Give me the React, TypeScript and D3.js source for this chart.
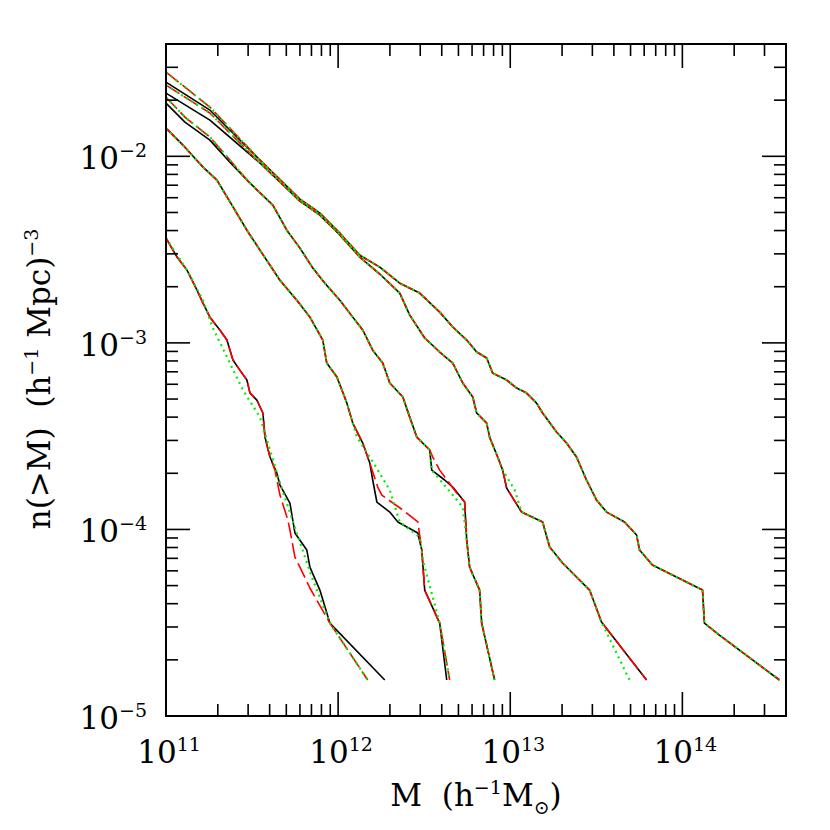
import React from 'react';
import * as d3 from 'd3';

type Pt = [number, number]; // [log10 M (h^-1 Msun), log10 n(>M) (h^-1 Mpc)^-3]

const massDomain: [number, number] = [1e11, 4e14];
const densityDomain: [number, number] = [1e-5, 0.04];
const xTickExponents = [11, 12, 13, 14];
const yTickExponents = [-5, -4, -3, -2];

// Group A (steepest)
const aBlack: Pt[] = [[11.000,-2.438],[11.064,-2.540],[11.122,-2.610],[11.180,-2.717],[11.215,-2.787],[11.255,-2.862],[11.313,-2.931],[11.354,-2.985],[11.389,-3.092],[11.429,-3.146],[11.470,-3.199],[11.488,-3.269],[11.528,-3.307],[11.563,-3.376],[11.575,-3.505],[11.604,-3.612],[11.644,-3.698],[11.662,-3.762],[11.720,-3.859],[11.749,-4.019],[11.818,-4.110],[11.836,-4.202],[11.894,-4.325],[11.952,-4.502],[12.271,-4.807]];
const aRed: Pt[] = [[11.000,-2.438],[11.064,-2.540],[11.122,-2.610],[11.180,-2.717],[11.215,-2.787],[11.255,-2.862],[11.313,-2.931],[11.354,-2.985],[11.389,-3.092],[11.429,-3.146],[11.470,-3.199],[11.488,-3.269],[11.528,-3.307],[11.563,-3.376],[11.575,-3.505],[11.604,-3.612],[11.633,-3.682],[11.662,-3.816],[11.708,-3.950],[11.720,-4.003],[11.749,-4.148],[11.778,-4.202],[11.836,-4.314],[11.952,-4.502],[12.172,-4.807]];
const aGreen: Pt[] = [[11.000,-2.438],[11.122,-2.610],[11.215,-2.771],[11.273,-2.921],[11.371,-3.108],[11.447,-3.253],[11.546,-3.398],[11.604,-3.574],[11.662,-3.751],[11.760,-4.019],[11.847,-4.255],[11.952,-4.502],[12.172,-4.807]];

// Group B
const bBlack: Pt[] = [[11.000,-1.849],[11.110,-1.951],[11.215,-2.058],[11.296,-2.128],[11.383,-2.262],[11.470,-2.396],[11.546,-2.503],[11.662,-2.664],[11.760,-2.771],[11.836,-2.862],[11.911,-2.985],[11.934,-3.108],[11.993,-3.183],[12.051,-3.323],[12.085,-3.430],[12.143,-3.537],[12.184,-3.644],[12.201,-3.735],[12.225,-3.853],[12.300,-3.907],[12.347,-3.960],[12.463,-4.019],[12.486,-4.110],[12.503,-4.325],[12.590,-4.502],[12.631,-4.807]];
const bRed: Pt[] = [[11.000,-1.849],[11.110,-1.951],[11.215,-2.058],[11.296,-2.128],[11.383,-2.262],[11.470,-2.396],[11.546,-2.503],[11.662,-2.664],[11.760,-2.771],[11.836,-2.862],[11.911,-2.985],[11.934,-3.108],[11.993,-3.183],[12.051,-3.323],[12.085,-3.430],[12.143,-3.537],[12.184,-3.644],[12.230,-3.773],[12.254,-3.816],[12.376,-3.896],[12.463,-3.960],[12.486,-4.110],[12.503,-4.325],[12.590,-4.502],[12.648,-4.807]];
const bGreen: Pt[] = [[11.000,-1.849],[11.110,-1.951],[11.215,-2.058],[11.296,-2.128],[11.383,-2.262],[11.470,-2.396],[11.546,-2.503],[11.662,-2.664],[11.760,-2.771],[11.836,-2.862],[11.911,-2.985],[11.934,-3.108],[11.993,-3.183],[12.051,-3.323],[12.085,-3.430],[12.109,-3.505],[12.213,-3.655],[12.300,-3.789],[12.358,-3.960],[12.474,-4.041],[12.492,-4.164],[12.590,-4.502],[12.648,-4.807]];

// Group C
const cBlack: Pt[] = [[11.000,-1.715],[11.110,-1.817],[11.255,-1.913],[11.371,-2.031],[11.488,-2.144],[11.621,-2.262],[11.702,-2.396],[11.778,-2.492],[11.853,-2.599],[11.923,-2.680],[12.010,-2.771],[12.085,-2.862],[12.143,-2.931],[12.201,-3.039],[12.259,-3.108],[12.300,-3.215],[12.376,-3.290],[12.416,-3.398],[12.457,-3.505],[12.532,-3.574],[12.544,-3.682],[12.619,-3.735],[12.666,-3.773],[12.735,-3.853],[12.747,-4.057],[12.764,-4.202],[12.822,-4.325],[12.834,-4.502],[12.909,-4.807]];
const cRed: Pt[] = [[11.000,-1.683],[11.110,-1.790],[11.255,-1.897],[11.371,-2.020],[11.488,-2.144],[11.621,-2.262],[11.702,-2.396],[11.778,-2.492],[11.853,-2.599],[11.923,-2.680],[12.010,-2.771],[12.085,-2.862],[12.143,-2.931],[12.201,-3.039],[12.259,-3.108],[12.300,-3.215],[12.376,-3.290],[12.416,-3.398],[12.457,-3.505],[12.532,-3.574],[12.550,-3.612],[12.590,-3.682],[12.689,-3.805],[12.735,-3.853],[12.747,-4.057],[12.764,-4.202],[12.822,-4.325],[12.834,-4.502],[12.909,-4.807]];
const cGreen: Pt[] = [[11.000,-1.683],[11.110,-1.790],[11.255,-1.897],[11.371,-2.020],[11.488,-2.144],[11.621,-2.262],[11.702,-2.396],[11.778,-2.492],[11.853,-2.599],[11.923,-2.680],[12.010,-2.771],[12.085,-2.862],[12.143,-2.931],[12.201,-3.039],[12.259,-3.108],[12.300,-3.215],[12.376,-3.290],[12.416,-3.398],[12.457,-3.505],[12.532,-3.574],[12.544,-3.682],[12.724,-3.880],[12.747,-4.057],[12.764,-4.202],[12.822,-4.325],[12.834,-4.502],[12.909,-4.807]];

// Group D
const dBlack: Pt[] = [[11.000,-1.661],[11.255,-1.806],[11.546,-2.036],[11.778,-2.240],[11.894,-2.315],[12.010,-2.422],[12.126,-2.540],[12.242,-2.631],[12.358,-2.733],[12.416,-2.851],[12.503,-2.974],[12.590,-3.049],[12.666,-3.108],[12.724,-3.215],[12.782,-3.290],[12.805,-3.376],[12.863,-3.430],[12.880,-3.505],[12.927,-3.612],[12.956,-3.682],[12.979,-3.778],[13.066,-3.907],[13.188,-3.960],[13.229,-4.094],[13.304,-4.180],[13.461,-4.325],[13.530,-4.496],[13.792,-4.807]];
const dRed: Pt[] = [[11.000,-1.618],[11.255,-1.768],[11.546,-2.036],[11.778,-2.240],[11.894,-2.315],[12.010,-2.422],[12.126,-2.540],[12.242,-2.631],[12.358,-2.733],[12.416,-2.851],[12.503,-2.974],[12.590,-3.049],[12.666,-3.108],[12.724,-3.215],[12.782,-3.290],[12.805,-3.376],[12.863,-3.430],[12.880,-3.505],[12.927,-3.612],[12.956,-3.682],[12.979,-3.778],[13.066,-3.907],[13.188,-3.960],[13.229,-4.094],[13.304,-4.180],[13.461,-4.325],[13.530,-4.496],[13.792,-4.807]];
const dGreen: Pt[] = [[11.000,-1.618],[11.255,-1.768],[11.546,-2.036],[11.778,-2.240],[11.894,-2.315],[12.010,-2.422],[12.126,-2.540],[12.242,-2.631],[12.358,-2.733],[12.416,-2.851],[12.503,-2.974],[12.590,-3.049],[12.666,-3.108],[12.724,-3.215],[12.782,-3.290],[12.805,-3.376],[12.863,-3.430],[12.880,-3.505],[12.927,-3.612],[12.956,-3.682],[13.026,-3.789],[13.066,-3.907],[13.188,-3.960],[13.229,-4.094],[13.304,-4.180],[13.461,-4.325],[13.530,-4.496],[13.693,-4.807]];

// Group E (shallowest)
const eBlack: Pt[] = [[11.000,-1.602],[11.255,-1.752],[11.546,-2.020],[11.778,-2.229],[11.894,-2.304],[12.010,-2.412],[12.126,-2.530],[12.242,-2.594],[12.358,-2.680],[12.474,-2.733],[12.590,-2.835],[12.666,-2.915],[12.747,-2.985],[12.805,-3.049],[12.863,-3.081],[12.898,-3.162],[12.979,-3.199],[13.037,-3.242],[13.095,-3.269],[13.153,-3.323],[13.188,-3.376],[13.269,-3.478],[13.327,-3.537],[13.385,-3.612],[13.443,-3.735],[13.501,-3.842],[13.560,-3.907],[13.664,-3.960],[13.734,-4.030],[13.751,-4.110],[13.826,-4.191],[14.117,-4.325],[14.128,-4.502],[14.215,-4.566],[14.564,-4.807]];
const eRed: Pt[] = [[11.000,-1.549],[11.255,-1.736],[11.546,-2.020],[11.778,-2.229],[11.894,-2.304],[12.010,-2.412],[12.126,-2.530],[12.242,-2.594],[12.358,-2.680],[12.474,-2.733],[12.590,-2.835],[12.666,-2.915],[12.747,-2.985],[12.805,-3.049],[12.863,-3.081],[12.898,-3.162],[12.979,-3.199],[13.037,-3.242],[13.095,-3.269],[13.153,-3.323],[13.188,-3.376],[13.269,-3.478],[13.327,-3.537],[13.385,-3.612],[13.443,-3.735],[13.501,-3.842],[13.560,-3.907],[13.664,-3.960],[13.734,-4.030],[13.751,-4.110],[13.826,-4.191],[14.117,-4.325],[14.128,-4.502],[14.215,-4.566],[14.564,-4.807]];
const eGreen: Pt[] = eRed;

const W = 830;
const H = 830;
const plot = { left: 166, right: 786, top: 44, bottom: 716 };
const FONT = "'DejaVu Serif', serif";

const styles = {
  black: { stroke: '#000000', width: 1.6, dash: 'none' },
  red: { stroke: '#ff0000', width: 1.6, dash: '16,5' },
  green: { stroke: '#00ee00', width: 2.2, dash: '2,4' },
};

const series = [
  { data: aBlack, s: styles.black }, { data: bBlack, s: styles.black }, { data: cBlack, s: styles.black }, { data: dBlack, s: styles.black }, { data: eBlack, s: styles.black },
  { data: aRed, s: styles.red }, { data: bRed, s: styles.red }, { data: cRed, s: styles.red }, { data: dRed, s: styles.red }, { data: eRed, s: styles.red },
  { data: aGreen, s: styles.green }, { data: bGreen, s: styles.green }, { data: cGreen, s: styles.green }, { data: dGreen, s: styles.green }, { data: eGreen, s: styles.green },
];

export default function App() {
  const x = d3.scaleLog().domain(massDomain).range([plot.left, plot.right]);
  const y = d3.scaleLog().domain(densityDomain).range([plot.bottom, plot.top]);
  const line = d3.line<Pt>().x(d => x(Math.pow(10, d[0]))).y(d => y(Math.pow(10, d[1])));

  const xTicks: { v: number; major: boolean }[] = [];
  for (let e = 11; e <= 14; e++) for (let k = 1; k <= 9; k++) {
    const v = k * Math.pow(10, e);
    if (v >= massDomain[0] && v <= massDomain[1] * 1.0001) xTicks.push({ v, major: k === 1 });
  }
  const yTicks: { v: number; major: boolean }[] = [];
  for (let e = -5; e <= -2; e++) for (let k = 1; k <= 9; k++) {
    const v = k * Math.pow(10, e);
    if (v >= densityDomain[0] && v <= densityDomain[1] * 1.0001) yTicks.push({ v, major: k === 1 });
  }
  const MAJ = 24, MIN = 12;

  return (
    <svg width={W} height={H} style={{ position: 'absolute', left: 0, top: 0, background: '#fff' }} fontFamily={FONT}>
      <rect x={0} y={0} width={W} height={H} fill="#fff" />
      <g fill="none" strokeLinejoin="round">
        {series.map((sr, i) => (
          <path key={i} d={line(sr.data) || ''} stroke={sr.s.stroke} strokeWidth={sr.s.width} strokeDasharray={sr.s.dash} />
        ))}
      </g>
      <g stroke="#000" strokeWidth={1.6}>
        {xTicks.map((t, i) => {
          const px = x(t.v); const L = t.major ? MAJ : MIN;
          return <g key={'x' + i}>
            <line x1={px} x2={px} y1={plot.bottom} y2={plot.bottom - L} />
            <line x1={px} x2={px} y1={plot.top} y2={plot.top + L} />
          </g>;
        })}
        {yTicks.map((t, i) => {
          const py = y(t.v); const L = t.major ? MAJ : MIN;
          return <g key={'y' + i}>
            <line x1={plot.left} x2={plot.left + L} y1={py} y2={py} />
            <line x1={plot.right} x2={plot.right - L} y1={py} y2={py} />
          </g>;
        })}
      </g>
      <rect x={plot.left} y={plot.top} width={plot.right - plot.left} height={plot.bottom - plot.top} fill="none" stroke="#000" strokeWidth={2} />
      <g fontSize={31} fill="#000">
        {xTickExponents.map(e => (
          <text key={'xl' + e} x={x(Math.pow(10, e)) + 3} y={763} textAnchor="middle">10<tspan dy={-12} fontSize={19}>{e}</tspan></text>
        ))}
        {yTickExponents.map(e => (
          <text key={'yl' + e} x={147} y={y(Math.pow(10, e)) + 13} textAnchor="end">10<tspan dy={-12} fontSize={19}>{'\u2212' + Math.abs(e)}</tspan></text>
        ))}
      </g>
      <text x={(plot.left + plot.right) / 2} y={806} textAnchor="middle" fontSize={31} style={{ whiteSpace: 'pre' }}>
        {'M  (h'}<tspan dy={-12} fontSize={19}>{'\u22121'}</tspan><tspan dy={12}>M</tspan><tspan dy={8} fontSize={19}>{'\u2299'}</tspan><tspan dy={-8}>)</tspan>
      </text>
      <text transform={`translate(50, 379) rotate(-90)`} textAnchor="middle" fontSize={31} style={{ whiteSpace: 'pre' }}>
        {'n(>M)  (h'}<tspan dy={-12} fontSize={19}>{'\u22121'}</tspan><tspan dy={12}>{' Mpc)'}</tspan><tspan dy={-12} fontSize={19}>{'\u22123'}</tspan>
      </text>
    </svg>
  );
}
